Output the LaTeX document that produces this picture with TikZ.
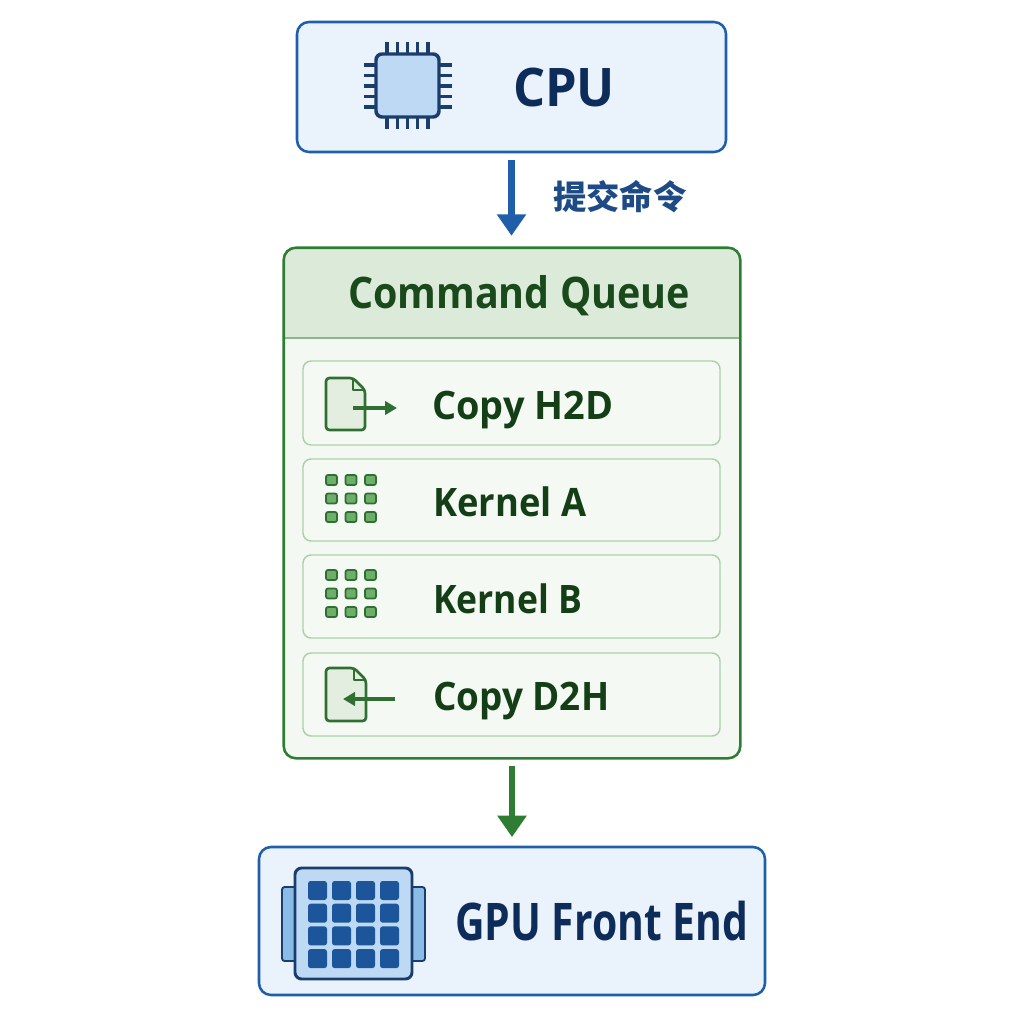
\documentclass[tikz,border=0pt]{standalone}
\usepackage{fontspec}
\setmainfont{Open Sans}
\newfontfamily\cjk{Noto Sans CJK SC}
\usetikzlibrary{arrows.meta}
\definecolor{bblue}{HTML}{1F5FAA}
\definecolor{bfill}{HTML}{EAF2FC}
\definecolor{navy}{HTML}{0E2C5A}
\definecolor{chipfill}{HTML}{BDD9F3}
\definecolor{chipdark}{HTML}{1A3D6D}
\definecolor{tabfill}{HTML}{8BBCE8}
\definecolor{lblue}{HTML}{1E4B86}
\definecolor{gborder}{HTML}{2E7D32}
\definecolor{hfill}{HTML}{DCEBD9}
\definecolor{qfill}{HTML}{F3F8F2}
\definecolor{sepc}{HTML}{8DB88B}
\definecolor{iborder}{HTML}{ADD0A9}
\definecolor{ifill}{HTML}{F5F9F4}
\definecolor{gtext}{HTML}{1A4A1C}
\definecolor{itext}{HTML}{143F16}
\definecolor{sqfill}{HTML}{6DAE6B}
\definecolor{sqdark}{HTML}{2F6F32}
\definecolor{docfill}{HTML}{E3EEE1}
\newcommand\fitx[2]{\sbox0{#2}\pgfmathsetmacro\fxs{#1*0.75/\the\wd0}\scalebox{\fxs}[1]{\usebox0}}
\begin{document}
\begin{tikzpicture}[x=0.75pt,y=-0.75pt,
  bluebox/.style={draw=bblue, line width=1.9pt, fill=bfill, rounded corners=9pt, inner sep=0},
  itembox/.style={draw=iborder, line width=1.1pt, fill=ifill, rounded corners=6pt, inner sep=0, minimum width={417*0.75pt}},
  itemtext/.style={anchor=base west, inner sep=0, text=itext, font=\bfseries\fontsize{29.4}{30}\selectfont},
  pin/.style={draw=chipdark, line width=2.3pt},
  gsq/.style={fill=sqfill, draw=sqdark, line width=1.3pt, rounded corners=1.5pt},
  doc/.style={fill=docfill, draw=sqdark, line width=2pt, rounded corners=2.5pt},
  docline/.style={draw=sqdark, line width=1.8pt, line join=round},
  iconarrow/.style={draw=sqdark, line width=2.4pt, -{Triangle[length=9pt,width=10pt]}},
  bigarrow/.style={line width=5.2pt, -{Triangle[length=16pt,width=21pt]}}
]
\useasboundingbox (0,0) rectangle (1024,1024);
\fill[white] (0,0) rectangle (1024,1024);

% CPU box
\node[bluebox, minimum width={429*0.75pt}, minimum height={130*0.75pt}] (cpu) at (511.5,87) {};
\foreach \x in {387,397.3,407.5,417.8,428} {
  \draw[pin] (\x,42) -- (\x,56);
  \draw[pin] (\x,115) -- (\x,129);
}
\foreach \y in {65,75.5,86,96.5,107} {
  \draw[pin] (364,\y) -- (378,\y);
  \draw[pin] (437,\y) -- (452,\y);
}
\draw[fill=chipfill, draw=chipdark, line width=2.6pt, rounded corners=4.5pt] (376,54) rectangle (439,117);
\node[anchor=base, inner sep=0, text=navy, font=\bfseries\fontsize{39.9}{40}\selectfont] (cputext) at (564,107) {\fitx{102}{CPU}};

% Command queue
\node[fill=qfill, rounded corners=9pt, inner sep=0, minimum width={456*0.75pt}, minimum height={510*0.75pt}] (queue) at (512,503) {};
\begin{scope}
  \clip[rounded corners=9pt] (284,248) rectangle (740,758);
  \fill[hfill] (284,248) rectangle (740,338);
\end{scope}
\draw[sepc, line width=1.2pt] (284,338) -- (740,338);
\draw[gborder, line width=1.9pt, rounded corners=9pt] (queue.north west) rectangle (queue.south east);
\node[anchor=base, inner sep=0, text=gtext, font=\bfseries\fontsize{32.6}{33}\selectfont] (qtitle) at (519,308) {\fitx{342}{Command Queue}};

% items
\node[itembox, minimum height={84*0.75pt}] (i1) at (511.5,403) {};
\node[itembox, minimum height={82*0.75pt}] (i2) at (511.5,500) {};
\node[itembox, minimum height={83*0.75pt}] (i3) at (511.5,596.5) {};
\node[itembox, minimum height={83*0.75pt}] (i4) at (511.5,694.5) {};

% item 1 icon
\draw[doc] (326,378) -- (353,378) -- (365,390) -- (365,430) -- (326,430) -- cycle;
\draw[docline] (353,378) -- (353,390) -- (365,390);
\draw[iconarrow] (353,408) -- (397,408);
\node[itemtext] (t1) at (432,419) {\fitx{181}{Copy H2D}};

% item 2 / 3 icons
\foreach \i in {0,1,2} \foreach \j in {0,1,2} {
  \draw[gsq] ({326+19.5*\i},{475+18.5*\j}) rectangle +(11,10);
  \draw[gsq] ({326+19.5*\i},{570+18.5*\j}) rectangle +(11,10);
}
\node[itemtext] (t2) at (433,516) {\fitx{153}{Kernel A}};
\node[itemtext] (t3) at (433,613) {\fitx{149}{Kernel B}};

% item 4 icon
\draw[doc] (326,668) -- (354,668) -- (366,680) -- (366,721) -- (326,721) -- cycle;
\draw[docline] (354,668) -- (354,680) -- (366,680);
\draw[iconarrow] (395,699) -- (343,699);
\node[itemtext] (t4) at (433,710) {\fitx{176}{Copy D2H}};

% GPU box
\node[bluebox, minimum width={506*0.75pt}, minimum height={148*0.75pt}] (gpu) at (512,921) {};
\draw[fill=tabfill, draw=chipdark, line width=1.4pt, rounded corners=2pt] (282,887) rectangle (297,961);
\draw[fill=tabfill, draw=chipdark, line width=1.4pt, rounded corners=2pt] (410,887) rectangle (425,961);
\draw[fill=chipfill, draw=chipdark, line width=2.2pt, rounded corners=5pt] (295,868) rectangle (412,979);
\foreach \i in {0,1,2,3} \foreach \j in {0,1,2,3} {
  \fill[bblue!90!black, rounded corners=2pt] ({308+24*\i},{881+22.7*\j}) rectangle +(19,19);
}
\node[anchor=base west, inner sep=0, text=navy, font=\bfseries\fontsize{38.9}{39}\selectfont] (gputext) at (455,940) {\fitx{293}{GPU Front End}};

% connectors
\draw[bigarrow, draw=bblue, fill=bblue, shorten <=5pt, shorten >=9pt] (cpu.south) -- (cpu.south |- queue.north);
\node[anchor=west, inner sep=0, text=lblue, font=\cjk\bfseries\fontsize{25}{25}\selectfont] (lbl) at (553,197) {提交命令};
\draw[bigarrow, draw=gborder, fill=gborder, shorten <=5.5pt, shorten >=6.5pt] (queue.south) -- (queue.south |- gpu.north);
\end{tikzpicture}
\end{document}
